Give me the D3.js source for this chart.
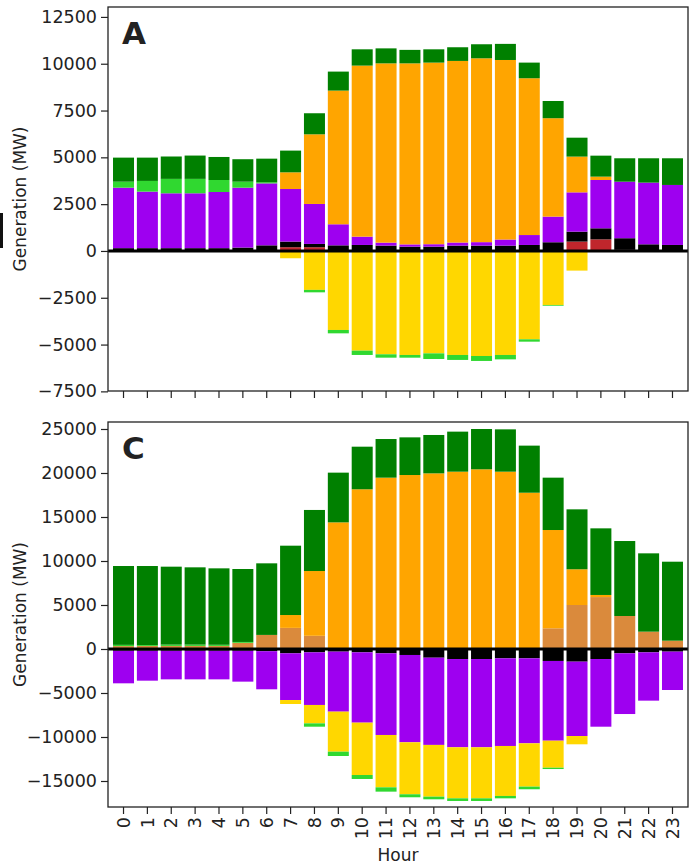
<!DOCTYPE html>
<html>
<head>
<meta charset="utf-8">
<script src="https://cdn.jsdelivr.net/npm/d3@7"></script>
<style>
  body { margin: 0; background: #fff; }
  svg text { font-family: "DejaVu Sans", sans-serif; fill: #222; }
</style>
</head>
<body>
<div id="chart"></div>
<script>
// hours of the day
var hours = d3.range(0, 24);

// panel A - generation by source (MW), layers from zero outward
var aRed    = [0,0,0,0,0,0,0,200,200,0,0,0,0,0,0,0,0,0,0,500,620,60,0,0];
var aBlack  = [150,150,150,150,150,180,300,300,175,300,320,285,230,230,285,285,285,320,465,530,590,620,355,320];
var aPurple = [3230,3020,2930,2930,3000,3200,3310,2810,2135,1125,445,160,120,130,165,185,325,530,1370,2100,2580,3020,3295,3205];
var aOrange = [0,0,0,0,0,0,0,890,3720,7140,9135,9575,9670,9700,9700,9820,9590,8375,5255,1910,180,0,0,0];
var aLime   = [320,570,770,770,640,320,60,0,0,0,0,0,0,0,0,0,0,0,0,0,0,0,0,0];
var aGreen  = [1285,1245,1195,1245,1230,1200,1260,1160,1125,1015,870,800,720,710,730,750,860,835,920,1010,1120,1250,1300,1425];
var aGold   = [0,0,0,0,0,0,0,-390,-2080,-4220,-5325,-5520,-5555,-5470,-5555,-5610,-5555,-4720,-2885,-1050,0,0,0,0];
var aLimeNeg= [0,0,0,0,0,0,0,0,-130,-180,-230,-180,-145,-300,-265,-265,-235,-125,-40,0,0,0,0,0];

// panel C
var cPeru   = [330,350,350,350,350,700,1600,2400,1500,0,0,0,0,0,0,0,0,0,2350,5000,5900,3750,1970,945];
var cLime   = [140,100,150,150,130,100,0,0,0,0,0,0,0,0,0,0,0,0,0,0,0,0,0,0];
var cOrange = [0,0,0,0,0,0,0,1460,7360,14390,18150,19470,19770,19960,20150,20420,20150,17760,11170,4060,240,0,0,0];
var cGreen  = [8960,8980,8855,8780,8685,8290,8135,7880,6940,5650,4840,4390,4280,4360,4550,4580,4810,5350,5950,6810,7570,8520,8900,8975];
var cBlack  = [-200,-200,-200,-200,-200,-200,-250,-490,-380,-300,-380,-490,-680,-990,-1140,-1140,-1060,-1060,-1360,-1440,-1140,-490,-380,-300];
var cPurple = [-3700,-3400,-3250,-3250,-3250,-3510,-4330,-5310,-5980,-6820,-7990,-9280,-9920,-9910,-10030,-10030,-9960,-9660,-9060,-8450,-7690,-6900,-5490,-4360];
var cGold   = [0,0,0,0,0,0,0,-450,-2090,-4550,-5950,-5950,-5910,-5880,-5800,-5800,-5680,-4920,-3070,-940,0,0,0,0];
var cLimeNeg= [0,0,0,0,0,0,0,0,-380,-490,-450,-490,-340,-300,-300,-300,-270,-300,-150,0,0,0,0,0];

var aTicks = d3.range(-7500, 12501, 2500);
var cTicks = d3.range(-15000, 25001, 5000);

var colors = {
  red: "#c0262c", black: "#000000", purple: "#9e00f0", orange: "#ffa500",
  lime: "#30d830", green: "#008000", gold: "#ffd700", peru: "#da8a3c"
};

var W = 692, H = 865;
var left = 108, right = 688;

var panels = [
  { label: "A", top: 7, bottom: 391, domain: [-7480, 13030], ticks: aTicks, xLabels: false,
    layers: [["red", aRed], ["black", aBlack], ["purple", aPurple], ["orange", aOrange],
             ["lime", aLime], ["green", aGreen], ["gold", aGold], ["lime", aLimeNeg]] },
  { label: "C", top: 422, bottom: 807, domain: [-17955, 25795], ticks: cTicks, xLabels: true,
    layers: [["peru", cPeru], ["lime", cLime], ["orange", cOrange], ["green", cGreen],
             ["black", cBlack], ["purple", cPurple], ["gold", cGold], ["lime", cLimeNeg]] }
];

var svg = d3.select("#chart").append("svg")
  .attr("width", W)
  .attr("height", H);

var x = d3.scaleBand()
  .domain(hours)
  .range([left, right])
  .paddingInner(0.12)
  .paddingOuter(0.21);

// small black mark on left edge of the original figure
svg.append("rect")
  .attr("x", 0).attr("y", 213)
  .attr("width", 3).attr("height", 35)
  .attr("fill", "#111");

panels.forEach(function (p) {
  var y = d3.scaleLinear().domain(p.domain).range([p.bottom, p.top]);

  // build rows for d3.stack
  var keys = p.layers.map(function (l, i) { return "k" + i; });
  var rows = hours.map(function (h, j) {
    var r = { hour: h };
    p.layers.forEach(function (l, i) { r["k" + i] = l[1][j]; });
    return r;
  });
  var stacked = d3.stack().keys(keys).offset(d3.stackOffsetDiverging)(rows);

  var g = svg.append("g");
  g.selectAll("g.layer")
    .data(stacked)
    .enter()
    .append("g")
    .attr("class", "layer")
    .attr("fill", function (d, i) { return colors[p.layers[i][0]]; })
    .selectAll("rect")
    .data(function (d) { return d; })
    .enter()
    .append("rect")
    .attr("x", function (d) { return x(d.data.hour); })
    .attr("width", x.bandwidth())
    .attr("y", function (d) { return y(Math.max(d[0], d[1])); })
    .attr("height", function (d) { return Math.abs(y(d[0]) - y(d[1])); });

  // zero line
  svg.append("line")
    .attr("x1", left).attr("x2", right)
    .attr("y1", y(0)).attr("y2", y(0))
    .attr("stroke", "#000")
    .attr("stroke-width", 3);

  // y axis
  var ya = svg.append("g")
    .attr("transform", "translate(" + left + ",0)")
    .call(d3.axisLeft(y).tickValues(p.ticks).tickSize(7).tickPadding(4).tickFormat(d3.format("d")));
  ya.select(".domain").remove();
  ya.selectAll("line").attr("stroke", "#222").attr("stroke-width", 1.2);
  ya.selectAll("text").attr("font-size", "17.5px").attr("fill", "#222");

  // x axis
  var xa = svg.append("g")
    .attr("transform", "translate(0," + p.bottom + ")")
    .call(d3.axisBottom(x).tickSize(7).tickPadding(4));
  xa.select(".domain").remove();
  xa.selectAll("line").attr("stroke", "#222").attr("stroke-width", 1.2);
  if (p.xLabels) {
    xa.selectAll("text")
      .attr("font-size", "17.5px")
      .attr("fill", "#222")
      .attr("text-anchor", "end")
      .attr("transform", "rotate(-90)")
      .attr("x", -10)
      .attr("y", 0)
      .attr("dy", "0.35em");
  } else {
    xa.selectAll("text").remove();
  }

  // frame
  svg.append("rect")
    .attr("x", left).attr("y", p.top)
    .attr("width", right - left).attr("height", p.bottom - p.top)
    .attr("fill", "none")
    .attr("stroke", "#222")
    .attr("stroke-width", 1.3);

  // panel letter
  svg.append("text")
    .attr("x", 122)
    .attr("y", p.top + 37)
    .attr("font-size", "31px")
    .attr("font-weight", "bold")
    .attr("fill", "#000")
    .text(p.label);

  // y label
  svg.append("text")
    .attr("transform", "translate(20," + ((p.top + p.bottom) / 2) + ") rotate(-90)")
    .attr("text-anchor", "middle")
    .attr("dy", "0.35em")
    .attr("font-size", "17px")
    .text("Generation (MW)");
});

svg.append("text")
  .attr("x", (left + right) / 2)
  .attr("y", 861)
  .attr("text-anchor", "middle")
  .attr("font-size", "17px")
  .text("Hour");
</script>
</body>
</html>
